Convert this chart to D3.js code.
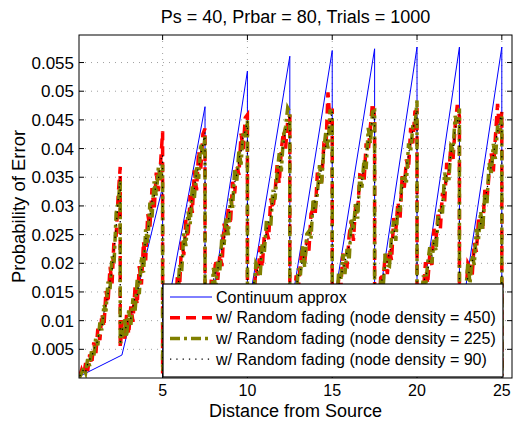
<!DOCTYPE html>
<meta charset="utf-8">
<script src="https://d3js.org/d3.v7.min.js"></script>
<style>
  body { margin: 0; background: #fff; }
  text { font-family: "Liberation Sans", Arial, Helvetica, sans-serif; fill: #000; }
</style>
<div id="chart"></div>
<script>

// distance axis: every noisy run restarts at one of these edges
var segEdges = [0.1, 2.5, 5, 7.5, 10, 12.5, 15, 17.5, 20, 22.5, 25];
var xTicks = [5, 10, 15, 20, 25];
var yTicks = [0.005, 0.01, 0.015, 0.02, 0.025, 0.03, 0.035, 0.04, 0.045, 0.05, 0.055];
var yTickLabels = ["0.005", "0.01", "0.015", "0.02", "0.025", "0.03", "0.035", "0.04", "0.045", "0.05", "0.055"];

// continuum approximation (sawtooth)
var approxX = [0.1, 2.6, 5, 5, 5.1, 7.5, 7.5, 7.6, 10, 10, 10.1, 12.5, 12.5, 12.6, 15, 15, 15.1,
               17.5, 17.5, 17.6, 20, 20, 20.1, 22.5, 22.5, 22.6, 25, 25];
var approxY = [0.0003, 0.0040, 0.0333, 0.0003, 0.0093, 0.0473, 0.0003, 0.0074, 0.0535, 0.0003, 0.0130,
               0.0561, 0.0003, 0.0127, 0.0571, 0.0003, 0.0131, 0.0574, 0.0003, 0.0105, 0.0577,
               0.0003, 0.0093, 0.0577, 0.0003, 0.0105, 0.0577, 0.0003];

// random fading, node density = 450 (21 samples per segment)
var fade450 = [
  [0.0003, 0.0014, 0.0004, 0.0026, 0.0012, 0.0041, 0.0024, 0.0062, 0.0041, 0.0086, 0.0066, 0.0112, 0.0089, 0.0152, 0.0131, 0.0194, 0.0165, 0.0245, 0.0248, 0.0318, 0.0368],
  [0.0052, 0.0101, 0.0064, 0.0110, 0.0076, 0.0125, 0.0098, 0.0158, 0.0128, 0.0195, 0.0163, 0.0238, 0.0205, 0.0286, 0.0262, 0.0331, 0.0292, 0.0358, 0.0326, 0.0372, 0.0430],
  [0.0008, 0.0060, 0.0039, 0.0102, 0.0076, 0.0134, 0.0106, 0.0181, 0.0158, 0.0238, 0.0214, 0.0276, 0.0245, 0.0319, 0.0288, 0.0362, 0.0327, 0.0396, 0.0365, 0.0425, 0.0435],
  [0.0010, 0.0092, 0.0112, 0.0173, 0.0159, 0.0206, 0.0171, 0.0215, 0.0195, 0.0269, 0.0247, 0.0297, 0.0268, 0.0342, 0.0322, 0.0371, 0.0354, 0.0426, 0.0399, 0.0454, 0.0459],
  [0.0010, 0.0082, 0.0154, 0.0137, 0.0191, 0.0179, 0.0230, 0.0193, 0.0251, 0.0256, 0.0242, 0.0313, 0.0295, 0.0322, 0.0371, 0.0339, 0.0398, 0.0430, 0.0400, 0.0448, 0.0459],
  [0.0010, 0.0096, 0.0131, 0.0179, 0.0155, 0.0200, 0.0228, 0.0200, 0.0241, 0.0222, 0.0286, 0.0295, 0.0287, 0.0358, 0.0341, 0.0343, 0.0404, 0.0398, 0.0498, 0.0443, 0.0470],
  [0.0010, 0.0110, 0.0128, 0.0171, 0.0154, 0.0217, 0.0197, 0.0195, 0.0249, 0.0274, 0.0239, 0.0299, 0.0290, 0.0354, 0.0353, 0.0341, 0.0409, 0.0395, 0.0438, 0.0479, 0.0454],
  [0.0010, 0.0102, 0.0122, 0.0183, 0.0169, 0.0216, 0.0181, 0.0225, 0.0205, 0.0279, 0.0257, 0.0307, 0.0278, 0.0352, 0.0332, 0.0381, 0.0364, 0.0436, 0.0409, 0.0464, 0.0466],
  [0.0010, 0.0075, 0.0160, 0.0150, 0.0202, 0.0164, 0.0214, 0.0197, 0.0260, 0.0242, 0.0290, 0.0259, 0.0323, 0.0305, 0.0375, 0.0354, 0.0408, 0.0382, 0.0440, 0.0476, 0.0456],
  [0.0010, 0.0108, 0.0136, 0.0142, 0.0200, 0.0193, 0.0177, 0.0236, 0.0220, 0.0276, 0.0265, 0.0264, 0.0328, 0.0311, 0.0356, 0.0392, 0.0360, 0.0422, 0.0478, 0.0426, 0.0464]
];

// random fading, node density = 225
var fade225 = [
  [0.0001, 0.0008, 0.0018, 0.0009, 0.0033, 0.0021, 0.0050, 0.0037, 0.0071, 0.0057, 0.0097, 0.0083, 0.0128, 0.0116, 0.0168, 0.0155, 0.0212, 0.0201, 0.0288, 0.0305, 0.0345],
  [0.0061, 0.0068, 0.0105, 0.0071, 0.0118, 0.0090, 0.0139, 0.0115, 0.0171, 0.0146, 0.0212, 0.0184, 0.0259, 0.0236, 0.0306, 0.0280, 0.0343, 0.0318, 0.0368, 0.0346, 0.0372],
  [0.0012, 0.0028, 0.0075, 0.0062, 0.0113, 0.0093, 0.0148, 0.0135, 0.0198, 0.0186, 0.0252, 0.0230, 0.0290, 0.0268, 0.0335, 0.0314, 0.0370, 0.0347, 0.0409, 0.0388, 0.0421],
  [0.0012, 0.0065, 0.0150, 0.0140, 0.0192, 0.0154, 0.0204, 0.0187, 0.0250, 0.0232, 0.0280, 0.0249, 0.0313, 0.0295, 0.0365, 0.0344, 0.0398, 0.0372, 0.0430, 0.0420, 0.0449],
  [0.0009, 0.0108, 0.0136, 0.0142, 0.0200, 0.0193, 0.0177, 0.0236, 0.0220, 0.0276, 0.0265, 0.0264, 0.0328, 0.0311, 0.0356, 0.0392, 0.0360, 0.0422, 0.0438, 0.0471, 0.0464],
  [0.0012, 0.0082, 0.0154, 0.0137, 0.0191, 0.0179, 0.0230, 0.0193, 0.0251, 0.0256, 0.0242, 0.0313, 0.0295, 0.0322, 0.0371, 0.0339, 0.0398, 0.0430, 0.0400, 0.0468, 0.0459],
  [0.0010, 0.0102, 0.0122, 0.0183, 0.0169, 0.0216, 0.0181, 0.0225, 0.0205, 0.0279, 0.0257, 0.0307, 0.0278, 0.0352, 0.0332, 0.0381, 0.0364, 0.0436, 0.0409, 0.0464, 0.0466],
  [0.0011, 0.0110, 0.0128, 0.0171, 0.0154, 0.0217, 0.0197, 0.0195, 0.0249, 0.0274, 0.0239, 0.0299, 0.0290, 0.0354, 0.0353, 0.0341, 0.0409, 0.0395, 0.0438, 0.0438, 0.0484],
  [0.0010, 0.0096, 0.0131, 0.0179, 0.0155, 0.0200, 0.0228, 0.0200, 0.0241, 0.0222, 0.0286, 0.0295, 0.0287, 0.0358, 0.0341, 0.0343, 0.0404, 0.0398, 0.0457, 0.0443, 0.0470],
  [0.0011, 0.0075, 0.0160, 0.0150, 0.0202, 0.0164, 0.0214, 0.0197, 0.0260, 0.0242, 0.0290, 0.0259, 0.0323, 0.0305, 0.0375, 0.0354, 0.0408, 0.0382, 0.0440, 0.0430, 0.0456]
];

// random fading, node density = 90
var fade90 = [
  [0.0004, 0.0005, 0.0016, 0.0011, 0.0024, 0.0033, 0.0035, 0.0051, 0.0055, 0.0067, 0.0085, 0.0089, 0.0115, 0.0127, 0.0146, 0.0169, 0.0188, 0.0226, 0.0263, 0.0311, 0.0352],
  [0.0058, 0.0085, 0.0082, 0.0091, 0.0105, 0.0104, 0.0125, 0.0141, 0.0144, 0.0172, 0.0185, 0.0208, 0.0241, 0.0256, 0.0281, 0.0309, 0.0316, 0.0340, 0.0346, 0.0378, 0.0390],
  [0.0010, 0.0041, 0.0058, 0.0085, 0.0092, 0.0116, 0.0133, 0.0151, 0.0182, 0.0205, 0.0231, 0.0256, 0.0266, 0.0297, 0.0313, 0.0331, 0.0357, 0.0366, 0.0392, 0.0407, 0.0428],
  [0.0010, 0.0083, 0.0128, 0.0149, 0.0171, 0.0186, 0.0189, 0.0212, 0.0226, 0.0237, 0.0262, 0.0273, 0.0302, 0.0314, 0.0341, 0.0355, 0.0382, 0.0394, 0.0422, 0.0431, 0.0448],
  [0.0010, 0.0088, 0.0137, 0.0166, 0.0174, 0.0194, 0.0199, 0.0223, 0.0228, 0.0255, 0.0272, 0.0283, 0.0313, 0.0324, 0.0352, 0.0363, 0.0392, 0.0403, 0.0433, 0.0441, 0.0459],
  [0.0009, 0.0091, 0.0139, 0.0160, 0.0178, 0.0186, 0.0207, 0.0214, 0.0236, 0.0247, 0.0270, 0.0286, 0.0310, 0.0325, 0.0350, 0.0366, 0.0390, 0.0405, 0.0430, 0.0445, 0.0466],
  [0.0012, 0.0089, 0.0141, 0.0158, 0.0181, 0.0188, 0.0201, 0.0220, 0.0230, 0.0253, 0.0266, 0.0292, 0.0306, 0.0331, 0.0346, 0.0372, 0.0386, 0.0412, 0.0426, 0.0451, 0.0463],
  [0.0009, 0.0088, 0.0139, 0.0166, 0.0176, 0.0193, 0.0204, 0.0218, 0.0235, 0.0249, 0.0271, 0.0288, 0.0311, 0.0327, 0.0351, 0.0369, 0.0391, 0.0409, 0.0431, 0.0452, 0.0468],
  [0.0011, 0.0090, 0.0136, 0.0163, 0.0180, 0.0185, 0.0209, 0.0212, 0.0238, 0.0246, 0.0273, 0.0283, 0.0314, 0.0322, 0.0354, 0.0362, 0.0394, 0.0402, 0.0434, 0.0447, 0.0459],
  [0.0009, 0.0087, 0.0142, 0.0161, 0.0176, 0.0192, 0.0202, 0.0219, 0.0231, 0.0252, 0.0268, 0.0291, 0.0309, 0.0329, 0.0349, 0.0369, 0.0389, 0.0410, 0.0429, 0.0448, 0.0463]
];

// value each fading run drops to at the final edge (450, 225, 90)
var dropEnd = [0.0004, 0.0005, 0.0003];

var legendLabels = ["Continuum approx",
                    "w/ Random fading (node density = 450)",
                    "w/ Random fading (node density = 225)",
                    "w/ Random fading (node density = 90)"];

// ---- layout
var W = 513, H = 422;
var margin = {top: 35, right: 1, bottom: 44, left: 79};
var width = W - margin.left - margin.right,
    height = H - margin.top - margin.bottom;

var svg = d3.select("#chart").append("svg")
    .attr("width", W).attr("height", H);

var x = d3.scaleLinear().domain([0.07, 25.6]).range([margin.left, margin.left + width]);
var y = d3.scaleLinear().domain([0, 0.0598]).range([margin.top + height, margin.top]);

svg.append("clipPath").attr("id", "plotclip")
  .append("rect")
    .attr("x", margin.left).attr("y", margin.top)
    .attr("width", width).attr("height", height);

// grid
var grid = svg.append("g");
grid.selectAll("line.gx").data(xTicks).enter().append("line")
    .attr("x1", d => x(d)).attr("x2", d => x(d))
    .attr("y1", margin.top).attr("y2", margin.top + height)
    .style("stroke", "#a0a0a0").style("stroke-dasharray", "1,5");
grid.selectAll("line.gy").data(yTicks).enter().append("line")
    .attr("y1", d => y(d)).attr("y2", d => y(d))
    .attr("x1", margin.left).attr("x2", margin.left + width)
    .style("stroke", "#a0a0a0").style("stroke-dasharray", "1,5");

// build the noisy runs: 21 samples spread across each segment
function buildRun(segs, endVal) {
  var pts = [];
  segs.forEach(function(vals, s) {
    var a = segEdges[s], b = segEdges[s + 1];
    vals.forEach(function(v, i) {
      pts.push([a + (b - a) * i / (vals.length - 1), v]);
    });
  });
  pts.push([segEdges[segEdges.length - 1], endVal]);
  return pts;
}

var line = d3.line().x(d => x(d[0])).y(d => y(d[1]));
var plot = svg.append("g").attr("clip-path", "url(#plotclip)");

var series = [
  {pts: approxX.map((v, i) => [v, approxY[i]]), color: "#0000ff", w: 1, dash: null},
  {pts: buildRun(fade450, dropEnd[0]), color: "#ff0000", w: 3.5, dash: "10,6"},
  {pts: buildRun(fade225, dropEnd[1]), color: "#808000", w: 3.5, dash: "10,4,3,4"},
  {pts: buildRun(fade90, dropEnd[2]), color: "#000000", w: 1.3, dash: "1.3,5"}
];

series.forEach(function(s) {
  plot.append("path")
    .datum(s.pts)
    .attr("d", line)
    .style("fill", "none")
    .style("stroke", s.color)
    .style("stroke-width", s.w)
    .style("stroke-dasharray", s.dash);
});

// box + inward ticks
var frame = svg.append("g").style("stroke", "#000").style("stroke-width", 1);
frame.append("rect")
    .attr("x", margin.left).attr("y", margin.top)
    .attr("width", width).attr("height", height)
    .style("fill", "none");
var tl = 5;
xTicks.forEach(function(t) {
  frame.append("line").attr("x1", x(t)).attr("x2", x(t))
    .attr("y1", margin.top + height).attr("y2", margin.top + height - tl);
  frame.append("line").attr("x1", x(t)).attr("x2", x(t))
    .attr("y1", margin.top).attr("y2", margin.top + tl);
});
yTicks.forEach(function(t) {
  frame.append("line").attr("y1", y(t)).attr("y2", y(t))
    .attr("x1", margin.left).attr("x2", margin.left + tl);
  frame.append("line").attr("y1", y(t)).attr("y2", y(t))
    .attr("x1", margin.left + width).attr("x2", margin.left + width - tl);
});

// tick labels
svg.selectAll("text.xt").data(xTicks).enter().append("text")
    .attr("x", d => x(d)).attr("y", 396)
    .attr("text-anchor", "middle").style("font-size", "16px")
    .text(d => d);
svg.selectAll("text.yt").data(yTicks).enter().append("text")
    .attr("x", 74).attr("y", d => y(d)).attr("dy", "0.36em")
    .attr("text-anchor", "end").style("font-size", "17px")
    .text((d, i) => yTickLabels[i]);

// titles
svg.append("text")
    .attr("x", margin.left + width / 2).attr("y", 23)
    .attr("text-anchor", "middle").style("font-size", "18px")
    .text("Ps = 40, Prbar = 80, Trials = 1000");
svg.append("text")
    .attr("x", margin.left + width / 2).attr("y", 417)
    .attr("text-anchor", "middle").style("font-size", "18px")
    .text("Distance from Source");
svg.append("text")
    .attr("transform", "translate(25," + (margin.top + height / 2) + ") rotate(-90)")
    .attr("text-anchor", "middle").style("font-size", "18.5px")
    .text("Probability of Error");

// legend
var lg = svg.append("g");
lg.append("rect")
    .attr("x", 163).attr("y", 284).attr("width", 340).attr("height", 93)
    .style("fill", "#fff").style("stroke", "#000").style("stroke-width", 1.2);
legendLabels.forEach(function(lab, i) {
  var cy = 297 + i * 20.7;
  var s = series[i];
  lg.append("line")
    .attr("x1", 170).attr("x2", 212).attr("y1", cy).attr("y2", cy)
    .style("stroke", s.color).style("stroke-width", s.w)
    .style("stroke-dasharray", s.dash);
  lg.append("text")
    .attr("x", 216).attr("y", cy).attr("dy", "0.35em")
    .style("font-size", "16px")
    .text(lab);
});

</script>
